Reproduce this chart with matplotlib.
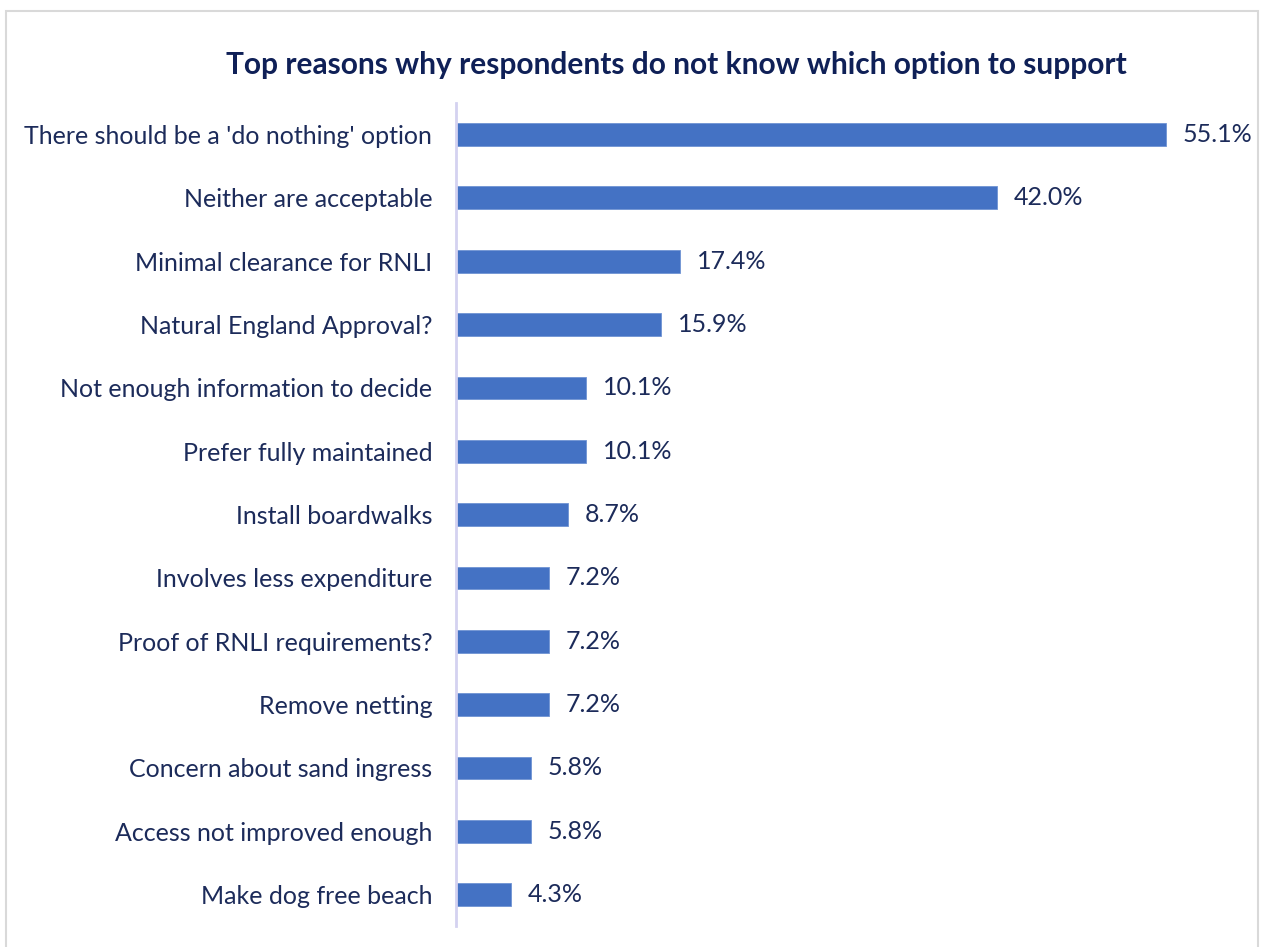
import numpy as np
import matplotlib.pyplot as plt
from matplotlib.patches import Rectangle

plt.rcParams['font.family'] = ['Lato', 'DejaVu Sans']

# reasons, top to bottom
reasons = ["There should be a 'do nothing' option", 'Neither are acceptable',
           'Minimal clearance for RNLI', 'Natural England Approval?',
           'Not enough information to decide', 'Prefer fully maintained',
           'Install boardwalks', 'Involves less expenditure',
           'Proof of RNLI requirements?', 'Remove netting',
           'Concern about sand ingress', 'Access not improved enough',
           'Make dog free beach']
pct = [55.1, 42.0, 17.4, 15.9, 10.1, 10.1, 8.7, 7.2, 7.2, 7.2, 5.8, 5.8, 4.3]

bar_col = '#4472C4'
txt_col = '#1c2b5a'

fig = plt.figure(figsize=(12.61, 9.47), dpi=100)
ax = fig.add_axes([0.3616, 0.0218, 0.6336, 0.8696])

y = np.arange(len(reasons))
ax.barh(y, pct, height=0.36, color=bar_col, edgecolor='#6f93d3', linewidth=0.6)
ax.set_ylim(len(reasons) - 0.5, -0.5)
ax.set_xlim(0, 62)

ax.set_yticks(y)
ax.set_yticklabels(reasons, fontsize=18, color=txt_col)
ax.tick_params(axis='y', length=0, pad=17)
ax.set_xticks([])

for s in ['top', 'right', 'bottom']:
    ax.spines[s].set_visible(False)
ax.spines['left'].set_color('#d4d2f0')
ax.spines['left'].set_linewidth(2)

for yi, v in zip(y, pct):
    ax.text(v + 1.3, yi, f'{v:.1f}%', va='center', ha='left',
            fontsize=18, color=txt_col)

fig.text(0.536, 0.931, 'Top reasons why respondents do not know which option to support',
         ha='center', va='center', fontsize=21.5, fontweight='bold', color='#0f2057')

# chart frame
fig.patches.append(Rectangle((6 / 1261, -0.05), 1252 / 1261, 1.05 - 11 / 947,
                             transform=fig.transFigure, fill=False,
                             edgecolor='#d9d9d9', linewidth=1.5))

fig.savefig('out.png', dpi=100)
